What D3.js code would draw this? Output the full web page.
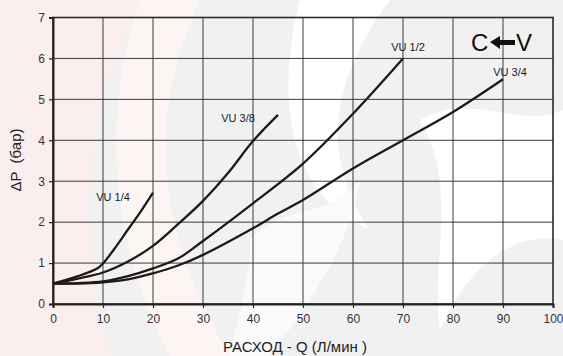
<!DOCTYPE html>
<html>
<head>
<meta charset="utf-8">
<script src="https://cdn.jsdelivr.net/npm/d3@7"></script>
<style>
  html, body { margin: 0; padding: 0; background: #fff; }
  svg { display: block; font-family: "Liberation Sans", Arial, sans-serif; }
</style>
</head>
<body>
<figure id="chart" style="margin:0"></figure>
<script>
// flow Q (l/min) vs pressure drop (bar)
const vu14X = [0, 5, 9, 10, 12, 15, 17.5, 20];
const vu14Y = [0.5, 0.68, 0.88, 0.99, 1.3, 1.82, 2.25, 2.72];

const vu38X = [0, 5, 10, 15, 20, 25, 30, 35, 40, 45];
const vu38Y = [0.5, 0.62, 0.77, 1.04, 1.42, 1.95, 2.52, 3.2, 3.98, 4.62];

const vu12X = [0, 5, 10, 15, 20, 25, 30, 40, 50, 60, 70];
const vu12Y = [0.5, 0.51, 0.55, 0.68, 0.87, 1.11, 1.54, 2.46, 3.43, 4.65, 6.0];

const vu34X = [0, 5, 10, 15, 20, 25, 30, 40, 45, 50, 60, 70, 80, 90];
const vu34Y = [0.5, 0.5, 0.53, 0.6, 0.75, 0.94, 1.2, 1.85, 2.21, 2.54, 3.31, 4.0, 4.69, 5.49];

const seriesNames = ["VU 1/4", "VU 3/8", "VU 1/2", "VU 3/4"];
const xTicks = [0, 10, 20, 30, 40, 50, 60, 70, 80, 90, 100];
const yTicks = [0, 1, 2, 3, 4, 5, 6, 7];

const width = 563, height = 356;
const margin = { top: 17.5, right: 10, bottom: 52, left: 53 };

const svg = d3.select("figure#chart")
  .append("svg")
  .attr("width", width)
  .attr("height", height);

// watermark-ish background
const bg = svg.append("g");
bg.append("rect").attr("width", width).attr("height", height).attr("fill", "#f1f1f1");
bg.append("path")
  .attr("d", "M0,0 L140,0 C95,90 70,200 110,356 L0,356 Z")
  .attr("fill", "#fbeeee");
bg.append("path")
  .attr("d", "M140,0 L200,0 C150,110 150,220 230,356 L170,356 C110,240 100,120 140,0 Z")
  .attr("fill", "#fdf4f4");
bg.append("path")
  .attr("d", "M300,0 L390,0 C330,80 320,160 370,230 C300,200 270,120 300,0 Z")
  .attr("fill", "#ffffff");
bg.append("path")
  .attr("d", "M420,120 C470,90 520,130 563,110 L563,240 C520,230 470,260 440,330 C430,260 460,190 420,120 Z")
  .attr("fill", "#ffffff");
bg.append("path")
  .attr("d", "M250,240 C290,200 330,220 360,180 C350,240 320,290 270,356 L230,356 C240,310 250,280 250,240 Z")
  .attr("fill", "#fafafa");

const x = d3.scaleLinear().domain([0, 100]).range([margin.left, width - margin.right]);
const y = d3.scaleLinear().domain([0, 7]).range([height - margin.bottom, margin.top]);

const g = svg.append("g");

// grid
g.selectAll(".vgrid").data(xTicks.slice(1, -1)).join("line")
  .attr("x1", d => x(d)).attr("x2", d => x(d))
  .attr("y1", y(0)).attr("y2", y(7))
  .attr("stroke", "#3a3a3a").attr("stroke-width", 1);
g.selectAll(".hgrid").data(yTicks.slice(1, -1)).join("line")
  .attr("x1", x(0)).attr("x2", x(100))
  .attr("y1", d => y(d)).attr("y2", d => y(d))
  .attr("stroke", "#3a3a3a").attr("stroke-width", 1);

// frame
g.append("rect")
  .attr("x", x(0)).attr("y", y(7))
  .attr("width", x(100) - x(0)).attr("height", y(0) - y(7))
  .attr("fill", "none").attr("stroke", "#2a2a2a").attr("stroke-width", 1.6);

// axes
const xAxis = svg.append("g")
  .attr("transform", `translate(0,${y(0)})`)
  .call(d3.axisBottom(x).tickValues(xTicks).tickFormat(d3.format("d")).tickSize(4).tickPadding(6));
const yAxis = svg.append("g")
  .attr("transform", `translate(${x(0)},0)`)
  .call(d3.axisLeft(y).tickValues(yTicks).tickFormat(d3.format("d")).tickSize(4).tickPadding(4));
[xAxis, yAxis].forEach(a => {
  a.attr("font-family", null).attr("font-size", null);
  a.select(".domain").attr("stroke", "#222").attr("stroke-width", 2);
  a.selectAll(".tick line").attr("stroke", "#222").attr("stroke-width", 1.2);
  a.selectAll("text").attr("font-size", 12).attr("fill", "#333");
});

// curves
const line = d3.line()
  .x(d => x(d[0]))
  .y(d => y(d[1]))
  .curve(d3.curveCatmullRom.alpha(0.5));

const curves = [
  d3.zip(vu14X, vu14Y),
  d3.zip(vu38X, vu38Y),
  d3.zip(vu12X, vu12Y),
  d3.zip(vu34X, vu34Y)
];

svg.append("g").selectAll("path").data(curves).join("path")
  .attr("d", line)
  .attr("fill", "none")
  .attr("stroke", "#1e1a1a")
  .attr("stroke-width", 2.3)
  .attr("stroke-linejoin", "round");

// labels near curve ends
const labelPos = [[113, 197], [238, 118], [408, 47], [510, 72]];
svg.append("g").selectAll("text").data(seriesNames).join("text")
  .attr("x", (d, i) => labelPos[i][0])
  .attr("y", (d, i) => labelPos[i][1])
  .attr("dy", "0.35em")
  .attr("text-anchor", "middle")
  .attr("font-size", 11)
  .attr("fill", "#1a1a1a")
  .text(d => d);

// C <- V mark
const mark = svg.append("g").attr("fill", "#111");
mark.append("text").attr("x", 471).attr("y", 51).attr("font-size", 24).text("C");
mark.append("path")
  .attr("d", "M490,42 L500,36 L500,40 L515,40 L515,45 L500,45 L500,49 Z");
mark.append("text").attr("x", 516).attr("y", 51).attr("font-size", 24).text("V");

// axis titles
svg.append("text")
  .attr("x", 295).attr("y", 352)
  .attr("text-anchor", "middle")
  .attr("font-size", 15).attr("fill", "#222")
  .text("РАСХОД - Q (Л/мин )");

svg.append("text")
  .attr("transform", "translate(21,160) rotate(-90)")
  .attr("text-anchor", "middle")
  .attr("font-size", 15).attr("fill", "#222")
  .style("white-space", "pre")
  .text("ΔP  (бар)");
</script>
</body>
</html>
